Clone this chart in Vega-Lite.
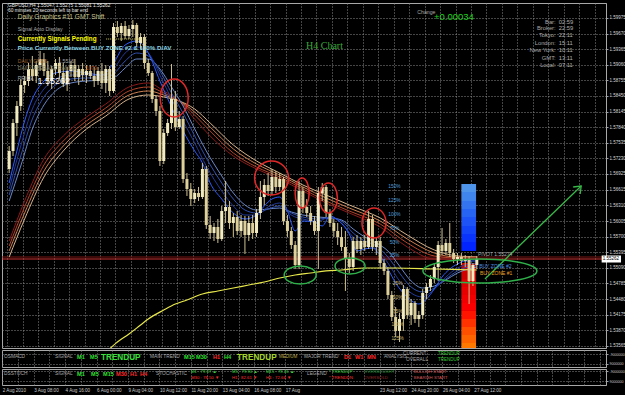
{
"$schema":"https://vega.github.io/schema/vega-lite/v6.json",
"background":"#000000",
"padding":{"left":1,"top":2,"right":0,"bottom":0},
"spacing":2,
"bounds":"flush",
"config":{"font":"Liberation Sans","view":{"stroke":"#a8a8a8","strokeWidth":1,"fill":"#000000"},"axis":{"labelFont":"Liberation Sans"}},
"datasets":{
"candles":[
{"b":0,"o":1.57023,"h":1.57472,"l":1.56944,"c":1.57375},{"b":1,"o":1.57375,"h":1.58000,"l":1.57277,"c":1.57922},{"b":2,"o":1.57922,"h":1.58352,"l":1.57668,"c":1.58254},{"b":3,"o":1.58254,"h":1.58782,"l":1.58157,"c":1.58665},{"b":4,"o":1.58665,"h":1.58841,"l":1.58508,"c":1.58743},{"b":5,"o":1.58743,"h":1.59095,"l":1.58645,"c":1.58978},{"b":6,"o":1.58978,"h":1.59232,"l":1.58743,"c":1.58841},{"b":7,"o":1.58841,"h":1.59134,"l":1.58704,"c":1.59056},{"b":8,"o":1.59056,"h":1.59330,"l":1.58939,"c":1.59173},{"b":9,"o":1.59173,"h":1.59290,"l":1.58841,"c":1.58939},
{"b":10,"o":1.58939,"h":1.59134,"l":1.58645,"c":1.58743},{"b":11,"o":1.58743,"h":1.59036,"l":1.58587,"c":1.58978},{"b":12,"o":1.58978,"h":1.59173,"l":1.58860,"c":1.59095},{"b":13,"o":1.59095,"h":1.59212,"l":1.58782,"c":1.58899},{"b":14,"o":1.58899,"h":1.59095,"l":1.58626,"c":1.58704},{"b":15,"o":1.58704,"h":1.59017,"l":1.58548,"c":1.58939},{"b":16,"o":1.58939,"h":1.59134,"l":1.58821,"c":1.59056},{"b":17,"o":1.59056,"h":1.59173,"l":1.58743,"c":1.58821},{"b":18,"o":1.58821,"h":1.59056,"l":1.58665,"c":1.58978},{"b":19,"o":1.58978,"h":1.59095,"l":1.58743,"c":1.58860},
{"b":20,"o":1.58860,"h":1.59056,"l":1.58704,"c":1.58939},{"b":21,"o":1.58939,"h":1.59056,"l":1.58782,"c":1.58841},{"b":22,"o":1.58841,"h":1.59017,"l":1.58626,"c":1.58743},{"b":23,"o":1.58743,"h":1.59017,"l":1.58665,"c":1.58939},{"b":24,"o":1.58939,"h":1.59095,"l":1.58587,"c":1.58704},{"b":25,"o":1.58704,"h":1.59056,"l":1.58508,"c":1.58978},{"b":26,"o":1.58978,"h":1.59036,"l":1.58450,"c":1.58548},{"b":27,"o":1.58548,"h":1.59877,"l":1.58508,"c":1.59799},{"b":28,"o":1.59799,"h":1.59916,"l":1.59603,"c":1.59681},{"b":29,"o":1.59681,"h":1.59877,"l":1.59525,"c":1.59818},
{"b":30,"o":1.59818,"h":1.59916,"l":1.59564,"c":1.59623},{"b":31,"o":1.59623,"h":1.59838,"l":1.59564,"c":1.59760},{"b":32,"o":1.59760,"h":1.59936,"l":1.59603,"c":1.59838},{"b":33,"o":1.59838,"h":1.59877,"l":1.59408,"c":1.59486},{"b":34,"o":1.59486,"h":1.59681,"l":1.59369,"c":1.59603},{"b":35,"o":1.59603,"h":1.59662,"l":1.58978,"c":1.59095},{"b":36,"o":1.59095,"h":1.59173,"l":1.58841,"c":1.58899},{"b":37,"o":1.58899,"h":1.58939,"l":1.58313,"c":1.58391},{"b":38,"o":1.58391,"h":1.58450,"l":1.58059,"c":1.58157},{"b":39,"o":1.58157,"h":1.58254,"l":1.57081,"c":1.57179},
{"b":40,"o":1.57179,"h":1.57805,"l":1.57120,"c":1.57726},{"b":41,"o":1.57726,"h":1.58000,"l":1.57668,"c":1.57922},{"b":42,"o":1.57922,"h":1.59075,"l":1.57805,"c":1.58391},{"b":43,"o":1.58391,"h":1.58548,"l":1.57766,"c":1.57844},{"b":44,"o":1.57844,"h":1.58157,"l":1.57805,"c":1.58000},{"b":45,"o":1.58000,"h":1.58059,"l":1.56749,"c":1.56827},{"b":46,"o":1.56827,"h":1.56944,"l":1.56495,"c":1.56632},{"b":47,"o":1.56632,"h":1.56749,"l":1.56299,"c":1.56436},{"b":48,"o":1.56436,"h":1.56632,"l":1.56358,"c":1.56553},{"b":49,"o":1.56553,"h":1.56671,"l":1.56397,"c":1.56475},
{"b":50,"o":1.56475,"h":1.57140,"l":1.56436,"c":1.57023},{"b":51,"o":1.57023,"h":1.57081,"l":1.55850,"c":1.55928},{"b":52,"o":1.55928,"h":1.56104,"l":1.55654,"c":1.55771},{"b":53,"o":1.55771,"h":1.55967,"l":1.55615,"c":1.55889},{"b":54,"o":1.55889,"h":1.56045,"l":1.55576,"c":1.55654},{"b":55,"o":1.55654,"h":1.56299,"l":1.55615,"c":1.56202},{"b":56,"o":1.56202,"h":1.56788,"l":1.55967,"c":1.56280},{"b":57,"o":1.56280,"h":1.56397,"l":1.55850,"c":1.55967},{"b":58,"o":1.55967,"h":1.56162,"l":1.55693,"c":1.56084},{"b":59,"o":1.56084,"h":1.56202,"l":1.55732,"c":1.55811},
{"b":60,"o":1.55811,"h":1.56123,"l":1.55693,"c":1.56006},{"b":61,"o":1.56006,"h":1.56104,"l":1.55361,"c":1.55732},{"b":62,"o":1.55732,"h":1.56104,"l":1.55615,"c":1.55967},{"b":63,"o":1.55967,"h":1.56123,"l":1.55654,"c":1.55771},{"b":64,"o":1.55771,"h":1.56241,"l":1.55693,"c":1.56162},{"b":65,"o":1.56162,"h":1.56788,"l":1.56045,"c":1.56475},{"b":66,"o":1.56475,"h":1.56827,"l":1.56319,"c":1.56710},{"b":67,"o":1.56710,"h":1.56944,"l":1.56495,"c":1.56593},{"b":68,"o":1.56593,"h":1.57023,"l":1.56514,"c":1.56866},{"b":69,"o":1.56866,"h":1.56984,"l":1.56553,"c":1.56671},
{"b":70,"o":1.56671,"h":1.56944,"l":1.56593,"c":1.56827},{"b":71,"o":1.56827,"h":1.56866,"l":1.55928,"c":1.56006},{"b":72,"o":1.56006,"h":1.56123,"l":1.55693,"c":1.55811},{"b":73,"o":1.55811,"h":1.55889,"l":1.55459,"c":1.55537},{"b":74,"o":1.55537,"h":1.55615,"l":1.55068,"c":1.55146},{"b":75,"o":1.55146,"h":1.56788,"l":1.55068,"c":1.56593},{"b":76,"o":1.56593,"h":1.56671,"l":1.56162,"c":1.56280},{"b":77,"o":1.56280,"h":1.56436,"l":1.56084,"c":1.56162},{"b":78,"o":1.56162,"h":1.56299,"l":1.55928,"c":1.56006},{"b":79,"o":1.56006,"h":1.56104,"l":1.55732,"c":1.55811},
{"b":80,"o":1.55811,"h":1.56671,"l":1.55068,"c":1.56553},{"b":81,"o":1.56553,"h":1.56749,"l":1.56397,"c":1.56671},{"b":82,"o":1.56671,"h":1.56710,"l":1.56084,"c":1.56162},{"b":83,"o":1.56162,"h":1.56241,"l":1.55889,"c":1.55967},{"b":84,"o":1.55967,"h":1.56045,"l":1.55693,"c":1.55811},{"b":85,"o":1.55811,"h":1.55967,"l":1.55537,"c":1.55693},{"b":86,"o":1.55693,"h":1.55889,"l":1.55420,"c":1.55498},{"b":87,"o":1.55498,"h":1.55811,"l":1.54638,"c":1.55263},{"b":88,"o":1.55263,"h":1.55380,"l":1.54989,"c":1.55107},{"b":89,"o":1.55107,"h":1.55693,"l":1.55029,"c":1.55615},
{"b":90,"o":1.55615,"h":1.55732,"l":1.55380,"c":1.55459},{"b":91,"o":1.55459,"h":1.55693,"l":1.55341,"c":1.55615},{"b":92,"o":1.55615,"h":1.55732,"l":1.55420,"c":1.55498},{"b":93,"o":1.55498,"h":1.56202,"l":1.55459,"c":1.56045},{"b":94,"o":1.56045,"h":1.56123,"l":1.55420,"c":1.55498},{"b":95,"o":1.55498,"h":1.55693,"l":1.55341,"c":1.55615},{"b":96,"o":1.55615,"h":1.55693,"l":1.55068,"c":1.55185},{"b":97,"o":1.55185,"h":1.55263,"l":1.54950,"c":1.55029},{"b":98,"o":1.55029,"h":1.55107,"l":1.54481,"c":1.54559},{"b":99,"o":1.54559,"h":1.54638,"l":1.54051,"c":1.54129},
{"b":100,"o":1.54129,"h":1.54325,"l":1.53738,"c":1.53856},{"b":101,"o":1.53856,"h":1.54207,"l":1.53640,"c":1.54090},{"b":102,"o":1.54090,"h":1.54755,"l":1.53856,"c":1.54677},{"b":103,"o":1.54677,"h":1.54716,"l":1.54090,"c":1.54168},{"b":104,"o":1.54168,"h":1.54481,"l":1.53973,"c":1.54403},{"b":105,"o":1.54403,"h":1.54442,"l":1.54012,"c":1.54090},{"b":106,"o":1.54090,"h":1.54247,"l":1.53934,"c":1.54168},{"b":107,"o":1.54168,"h":1.54677,"l":1.54090,"c":1.54598},{"b":108,"o":1.54598,"h":1.54794,"l":1.54481,"c":1.54716},{"b":109,"o":1.54716,"h":1.54950,"l":1.54638,"c":1.54872},
{"b":110,"o":1.54872,"h":1.55185,"l":1.54794,"c":1.55107},{"b":111,"o":1.55107,"h":1.55615,"l":1.54833,"c":1.55537},{"b":112,"o":1.55537,"h":1.55869,"l":1.55341,"c":1.55420},{"b":113,"o":1.55420,"h":1.55654,"l":1.55341,"c":1.55576},{"b":114,"o":1.55576,"h":1.55967,"l":1.55302,"c":1.55380},{"b":115,"o":1.55380,"h":1.55459,"l":1.55185,"c":1.55263},{"b":116,"o":1.55263,"h":1.55380,"l":1.55146,"c":1.55302},{"b":117,"o":1.55302,"h":1.55380,"l":1.55146,"c":1.55224},{"b":118,"o":1.55224,"h":1.55341,"l":1.55107,"c":1.55263},{"b":119,"o":1.55263,"h":1.55322,"l":1.54383,"c":1.54833},
{"b":120,"o":1.54833,"h":1.55185,"l":1.54735,"c":1.55146},{"b":121,"o":1.55146,"h":1.55322,"l":1.55068,"c":1.55263}
],
"ma":[
{"s":"L4","b":0,"p":1.55302},{"s":"L4","b":4,"p":1.56045},{"s":"L4","b":9,"p":1.56866},{"s":"L4","b":14,"p":1.57375},{"s":"L4","b":20,"p":1.57805},{"s":"L4","b":25,"p":1.58059},{"s":"L4","b":31,"p":1.58391},{"s":"L4","b":36,"p":1.58469},{"s":"L4","b":40,"p":1.58430},{"s":"L4","b":44,"p":1.58352},{"s":"L4","b":48,"p":1.58196},{"s":"L4","b":52,"p":1.57922},{"s":"L4","b":58,"p":1.57492},{"s":"L4","b":64,"p":1.57179},{"s":"L4","b":70,"p":1.56944},{"s":"L4","b":76,"p":1.56710},{"s":"L4","b":82,"p":1.56514},{"s":"L4","b":88,"p":1.56319},{"s":"L4","b":96,"p":1.56065},{"s":"L4","b":103,"p":1.55732},{"s":"L4","b":110,"p":1.55439},{"s":"L4","b":116,"p":1.55322},{"s":"L4","b":121,"p":1.55302},
{"s":"L3","b":0,"p":1.55420},{"s":"L3","b":4,"p":1.56162},{"s":"L3","b":9,"p":1.56984},{"s":"L3","b":14,"p":1.57472},{"s":"L3","b":20,"p":1.57883},{"s":"L3","b":25,"p":1.58137},{"s":"L3","b":31,"p":1.58469},{"s":"L3","b":36,"p":1.58548},{"s":"L3","b":40,"p":1.58469},{"s":"L3","b":44,"p":1.58352},{"s":"L3","b":48,"p":1.58137},{"s":"L3","b":52,"p":1.57844},{"s":"L3","b":58,"p":1.57414},{"s":"L3","b":64,"p":1.57120},{"s":"L3","b":70,"p":1.56905},{"s":"L3","b":76,"p":1.56671},{"s":"L3","b":82,"p":1.56456},{"s":"L3","b":88,"p":1.56260},{"s":"L3","b":96,"p":1.56006},{"s":"L3","b":103,"p":1.55654},{"s":"L3","b":110,"p":1.55380},{"s":"L3","b":116,"p":1.55302},{"s":"L3","b":121,"p":1.55302},
{"s":"L2","b":0,"p":1.55517},{"s":"L2","b":4,"p":1.56280},{"s":"L2","b":9,"p":1.57101},{"s":"L2","b":14,"p":1.57570},{"s":"L2","b":20,"p":1.57961},{"s":"L2","b":25,"p":1.58215},{"s":"L2","b":31,"p":1.58548},{"s":"L2","b":36,"p":1.58626},{"s":"L2","b":40,"p":1.58508},{"s":"L2","b":44,"p":1.58352},{"s":"L2","b":48,"p":1.58078},{"s":"L2","b":52,"p":1.57766},{"s":"L2","b":58,"p":1.57335},{"s":"L2","b":64,"p":1.57062},{"s":"L2","b":70,"p":1.56866},{"s":"L2","b":76,"p":1.56632},{"s":"L2","b":82,"p":1.56397},{"s":"L2","b":88,"p":1.56202},{"s":"L2","b":96,"p":1.55947},{"s":"L2","b":103,"p":1.55576},{"s":"L2","b":110,"p":1.55322},{"s":"L2","b":116,"p":1.55283},{"s":"L2","b":121,"p":1.55283},
{"s":"L1","b":0,"p":1.55615},{"s":"L1","b":4,"p":1.56397},{"s":"L1","b":9,"p":1.57218},{"s":"L1","b":14,"p":1.57668},{"s":"L1","b":20,"p":1.58039},{"s":"L1","b":25,"p":1.58293},{"s":"L1","b":31,"p":1.58626},{"s":"L1","b":36,"p":1.58704},{"s":"L1","b":40,"p":1.58548},{"s":"L1","b":44,"p":1.58352},{"s":"L1","b":48,"p":1.58000},{"s":"L1","b":52,"p":1.57668},{"s":"L1","b":58,"p":1.57277},{"s":"L1","b":64,"p":1.57023},{"s":"L1","b":70,"p":1.56827},{"s":"L1","b":76,"p":1.56593},{"s":"L1","b":82,"p":1.56358},{"s":"L1","b":88,"p":1.56162},{"s":"L1","b":96,"p":1.55889},{"s":"L1","b":103,"p":1.55498},{"s":"L1","b":110,"p":1.55263},{"s":"L1","b":116,"p":1.55263},{"s":"L1","b":121,"p":1.55283},
{"s":"B4","b":0,"p":1.56397},{"s":"B4","b":3,"p":1.57081},{"s":"B4","b":6,"p":1.57805},{"s":"B4","b":9,"p":1.58274},{"s":"B4","b":12,"p":1.58548},{"s":"B4","b":16,"p":1.58704},{"s":"B4","b":20,"p":1.58743},{"s":"B4","b":24,"p":1.58763},{"s":"B4","b":27,"p":1.58802},{"s":"B4","b":30,"p":1.58997},{"s":"B4","b":33,"p":1.59173},{"s":"B4","b":36,"p":1.59173},{"s":"B4","b":39,"p":1.58978},{"s":"B4","b":42,"p":1.58626},{"s":"B4","b":45,"p":1.58254},{"s":"B4","b":48,"p":1.57805},{"s":"B4","b":51,"p":1.57375},{"s":"B4","b":55,"p":1.56886},{"s":"B4","b":58,"p":1.56553},{"s":"B4","b":61,"p":1.56319},{"s":"B4","b":64,"p":1.56221},{"s":"B4","b":67,"p":1.56241},{"s":"B4","b":70,"p":1.56260},{"s":"B4","b":73,"p":1.56182},{"s":"B4","b":76,"p":1.56123},{"s":"B4","b":80,"p":1.56084},{"s":"B4","b":83,"p":1.56065},{"s":"B4","b":86,"p":1.56026},{"s":"B4","b":89,"p":1.55850},{"s":"B4","b":92,"p":1.55693},{"s":"B4","b":95,"p":1.55576},{"s":"B4","b":98,"p":1.55420},{"s":"B4","b":101,"p":1.55126},{"s":"B4","b":104,"p":1.54833},{"s":"B4","b":107,"p":1.54696},{"s":"B4","b":110,"p":1.54735},{"s":"B4","b":113,"p":1.54853},{"s":"B4","b":116,"p":1.54989},{"s":"B4","b":121,"p":1.55107},
{"s":"B3","b":0,"p":1.56514},{"s":"B3","b":3,"p":1.57277},{"s":"B3","b":6,"p":1.58000},{"s":"B3","b":9,"p":1.58430},{"s":"B3","b":12,"p":1.58665},{"s":"B3","b":16,"p":1.58782},{"s":"B3","b":20,"p":1.58802},{"s":"B3","b":24,"p":1.58802},{"s":"B3","b":27,"p":1.58880},{"s":"B3","b":30,"p":1.59134},{"s":"B3","b":33,"p":1.59290},{"s":"B3","b":36,"p":1.59232},{"s":"B3","b":39,"p":1.58939},{"s":"B3","b":42,"p":1.58508},{"s":"B3","b":45,"p":1.58117},{"s":"B3","b":48,"p":1.57668},{"s":"B3","b":51,"p":1.57238},{"s":"B3","b":55,"p":1.56749},{"s":"B3","b":58,"p":1.56436},{"s":"B3","b":61,"p":1.56221},{"s":"B3","b":64,"p":1.56162},{"s":"B3","b":67,"p":1.56241},{"s":"B3","b":70,"p":1.56299},{"s":"B3","b":73,"p":1.56162},{"s":"B3","b":76,"p":1.56084},{"s":"B3","b":80,"p":1.56045},{"s":"B3","b":83,"p":1.56065},{"s":"B3","b":86,"p":1.56006},{"s":"B3","b":89,"p":1.55771},{"s":"B3","b":92,"p":1.55615},{"s":"B3","b":95,"p":1.55517},{"s":"B3","b":98,"p":1.55302},{"s":"B3","b":101,"p":1.54989},{"s":"B3","b":104,"p":1.54716},{"s":"B3","b":107,"p":1.54618},{"s":"B3","b":110,"p":1.54696},{"s":"B3","b":113,"p":1.54872},{"s":"B3","b":116,"p":1.55029},{"s":"B3","b":121,"p":1.55146},
{"s":"B2","b":0,"p":1.56632},{"s":"B2","b":3,"p":1.57472},{"s":"B2","b":6,"p":1.58196},{"s":"B2","b":9,"p":1.58587},{"s":"B2","b":12,"p":1.58782},{"s":"B2","b":16,"p":1.58860},{"s":"B2","b":20,"p":1.58860},{"s":"B2","b":24,"p":1.58841},{"s":"B2","b":27,"p":1.58978},{"s":"B2","b":30,"p":1.59290},{"s":"B2","b":33,"p":1.59408},{"s":"B2","b":36,"p":1.59290},{"s":"B2","b":39,"p":1.58860},{"s":"B2","b":42,"p":1.58391},{"s":"B2","b":45,"p":1.57961},{"s":"B2","b":48,"p":1.57531},{"s":"B2","b":51,"p":1.57081},{"s":"B2","b":55,"p":1.56593},{"s":"B2","b":58,"p":1.56299},{"s":"B2","b":61,"p":1.56123},{"s":"B2","b":64,"p":1.56123},{"s":"B2","b":67,"p":1.56280},{"s":"B2","b":70,"p":1.56358},{"s":"B2","b":73,"p":1.56123},{"s":"B2","b":76,"p":1.56045},{"s":"B2","b":80,"p":1.56006},{"s":"B2","b":83,"p":1.56084},{"s":"B2","b":86,"p":1.55967},{"s":"B2","b":89,"p":1.55693},{"s":"B2","b":92,"p":1.55537},{"s":"B2","b":95,"p":1.55459},{"s":"B2","b":98,"p":1.55185},{"s":"B2","b":101,"p":1.54833},{"s":"B2","b":104,"p":1.54598},{"s":"B2","b":107,"p":1.54520},{"s":"B2","b":110,"p":1.54677},{"s":"B2","b":113,"p":1.54911},{"s":"B2","b":116,"p":1.55087},{"s":"B2","b":121,"p":1.55185},
{"s":"B1","b":0,"p":1.56749},{"s":"B1","b":2,"p":1.57375},{"s":"B1","b":4,"p":1.57961},{"s":"B1","b":6,"p":1.58391},{"s":"B1","b":9,"p":1.58743},{"s":"B1","b":12,"p":1.58899},{"s":"B1","b":16,"p":1.58939},{"s":"B1","b":20,"p":1.58899},{"s":"B1","b":24,"p":1.58860},{"s":"B1","b":27,"p":1.59095},{"s":"B1","b":30,"p":1.59447},{"s":"B1","b":33,"p":1.59525},{"s":"B1","b":36,"p":1.59290},{"s":"B1","b":39,"p":1.58743},{"s":"B1","b":42,"p":1.58235},{"s":"B1","b":45,"p":1.57766},{"s":"B1","b":48,"p":1.57375},{"s":"B1","b":50,"p":1.57140},{"s":"B1","b":52,"p":1.56749},{"s":"B1","b":55,"p":1.56436},{"s":"B1","b":58,"p":1.56162},{"s":"B1","b":61,"p":1.56045},{"s":"B1","b":64,"p":1.56123},{"s":"B1","b":66,"p":1.56299},{"s":"B1","b":68,"p":1.56436},{"s":"B1","b":70,"p":1.56475},{"s":"B1","b":72,"p":1.56202},{"s":"B1","b":74,"p":1.55811},{"s":"B1","b":76,"p":1.56006},{"s":"B1","b":79,"p":1.55986},{"s":"B1","b":81,"p":1.55908},{"s":"B1","b":83,"p":1.56104},{"s":"B1","b":85,"p":1.56026},{"s":"B1","b":88,"p":1.55752},{"s":"B1","b":90,"p":1.55420},{"s":"B1","b":92,"p":1.55459},{"s":"B1","b":94,"p":1.55478},{"s":"B1","b":96,"p":1.55322},{"s":"B1","b":98,"p":1.55068},{"s":"B1","b":100,"p":1.54794},{"s":"B1","b":103,"p":1.54520},{"s":"B1","b":106,"p":1.54383},{"s":"B1","b":108,"p":1.54481},{"s":"B1","b":110,"p":1.54677},{"s":"B1","b":112,"p":1.54911},{"s":"B1","b":114,"p":1.55068},{"s":"B1","b":116,"p":1.55165},{"s":"B1","b":118,"p":1.55224},{"s":"B1","b":121,"p":1.55224}
],
"yellow":[
{"b":24,"p":1.53308},{"b":26,"p":1.53504},{"b":28,"p":1.5364},{"b":31,"p":1.53797},{"b":34,"p":1.53973},{"b":36,"p":1.5409},{"b":40,"p":1.54266},{"b":43,"p":1.54383},{"b":46,"p":1.54462},{"b":50,"p":1.54579},{"b":54,"p":1.54638},{"b":58,"p":1.54696},{"b":62,"p":1.54755},{"b":66,"p":1.54813},{"b":70,"p":1.54892},{"b":74,"p":1.5495},{"b":78,"p":1.54989},{"b":82,"p":1.55029},{"b":86,"p":1.55048},{"b":92,"p":1.55087},{"b":100,"p":1.55087},{"b":110,"p":1.55068},{"b":121,"p":1.55048}
],
"cells":[
{"cell":"c01","b":117,"b2":120.8,"p":1.56729,"p2":1.56573},{"cell":"c02","b":117,"b2":120.8,"p":1.56573,"p2":1.56397},{"cell":"c03","b":117,"b2":120.8,"p":1.56397,"p2":1.56241},{"cell":"c04","b":117,"b2":120.8,"p":1.56241,"p2":1.56084},{"cell":"c05","b":117,"b2":120.8,"p":1.56084,"p2":1.55908},{"cell":"c06","b":117,"b2":120.8,"p":1.55908,"p2":1.55752},{"cell":"c07","b":117,"b2":120.8,"p":1.55752,"p2":1.55595},{"cell":"c08","b":117,"b2":120.8,"p":1.55595,"p2":1.5542},
{"cell":"c09","b":117,"b2":120.8,"p":1.55185,"p2":1.55029},{"cell":"c10","b":117,"b2":120.8,"p":1.55029,"p2":1.54872},{"cell":"c11","b":117,"b2":120.8,"p":1.54872,"p2":1.54716},{"cell":"c12","b":117,"b2":120.8,"p":1.54716,"p2":1.54559},{"cell":"c13","b":117,"b2":120.8,"p":1.54559,"p2":1.54403},{"cell":"c14","b":117,"b2":120.8,"p":1.54403,"p2":1.54247},{"cell":"c15","b":117,"b2":120.8,"p":1.54247,"p2":1.5409},{"cell":"c16","b":117,"b2":120.8,"p":1.5409,"p2":1.53934},{"cell":"c17","b":117,"b2":120.8,"p":1.53934,"p2":1.53777},{"cell":"c18","b":117,"b2":120.8,"p":1.53777,"p2":1.53621},{"cell":"c19","b":117,"b2":120.8,"p":1.53621,"p2":1.53523}
]
},
"vconcat":[
{
"width":604,"height":345,
"resolve":{"scale":{"color":"independent","shape":"independent"}},
"layer":[
{"data":{"name":"cells"},"mark":{"type":"rect","clip":true},
 "encoding":{
  "x":{"field":"b","type":"quantitative","title":null,"scale":{"domain":[-0.56,153.13],"nice":false,"zero":false},
   "axis":{"orient":"bottom","labels":false,"ticks":false,"domain":false,"grid":true,"gridColor":"#8a8a8a","gridDash":[1,2],"minExtent":0,"maxExtent":0,"tickCount":200,
   "values":[-0.5,3.5,7.5,11.5,15.5,19.5,23.5,27.5,31.5,35.5,39.5,43.5,47.5,51.5,55.5,59.5,63.5,67.5,71.5,75.5,79.5,83.5,87.5,91.5,95.5,99.5,103.5,107.5,111.5,115.5,119.5,123.5,127.5,131.5,135.5,139.5,143.5,147.5,151.5]}},
  "x2":{"field":"b2"},
  "y":{"field":"p","type":"quantitative","title":null,"scale":{"domain":[1.53523,1.60268],"nice":false,"zero":false},
   "axis":{"orient":"right","format":".5f","labelFontSize":4.5,"labelColor":"#d8d8d8","labelOverlap":false,"labelBound":false,"tickCount":200,"tickSize":2,"tickColor":"#a0a0a0","domainColor":"#a8a8a8","labelPadding":1,"grid":true,"gridColor":"#8a8a8a","gridDash":[1,2],"minExtent":20,"maxExtent":20,
   "values":[1.59975,1.5967,1.59365,1.5906,1.58755,1.5845,1.58145,1.5784,1.57535,1.5723,1.56925,1.56615,1.5631,1.56005,1.557,1.55395,1.5509,1.54785,1.5448,1.54175,1.5387,1.53565]}},
  "y2":{"field":"p2"},
  "color":{"field":"cell","type":"nominal","legend":null,"scale":{"domain":["c01","c02","c03","c04","c05","c06","c07","c08","c09","c10","c11","c12","c13","c14","c15","c16","c17","c18","c19"],"range":["#4d94ea","#4084ee","#3474f1","#2864f4","#1e54f7","#1444f9","#0a34fc","#0224ff","#c80000","#d20000","#dc0000","#e60000","#f00000","#fa0000","#ff1400","#ff3200","#ff5000","#ff6400","#ff7800"]}}
 }},
{"data":{"values":[{"p":1.55302,"k":"a"},{"p":1.55263,"k":"b"}]},"mark":{"type":"rule","strokeWidth":1},
 "encoding":{"y":{"field":"p","type":"quantitative","title":null},"color":{"field":"k","type":"nominal","legend":null,"scale":{"domain":["a","b"],"range":["#7a1414","#c83030"]}}}},
{"data":{"name":"ma"},"mark":{"type":"line","strokeWidth":1,"clip":true,"interpolate":"monotone"},
 "encoding":{"x":{"field":"b","type":"quantitative","title":null},"y":{"field":"p","type":"quantitative","title":null},
  "color":{"field":"s","type":"nominal","legend":null,"scale":{"domain":["L4","L3","L2","L1","B4","B3","B2","B1"],"range":["#d8b48c","#cd7f50","#b5452a","#8b1a1a","#6a88c8","#3050b0","#233a9a","#2a5cff"]}}}},
{"data":{"name":"yellow"},"mark":{"type":"line","strokeWidth":1.2,"clip":true,"interpolate":"monotone","color":"#e8e84c"},
 "encoding":{"x":{"field":"b","type":"quantitative","title":null},"y":{"field":"p","type":"quantitative","title":null}}},
{"data":{"name":"candles"},"mark":{"type":"rule","strokeWidth":1,"clip":true,"color":"#cfc290"},
 "encoding":{"x":{"field":"b","type":"quantitative","title":null},"y":{"field":"l","type":"quantitative","title":null},"y2":{"field":"h"}}},
{"data":{"name":"candles"},"mark":{"type":"bar","size":3,"clip":true},
 "encoding":{"x":{"field":"b","type":"quantitative","title":null},"y":{"field":"o","type":"quantitative","title":null},"y2":{"field":"c"},
  "color":{"condition":{"test":"datum.c > datum.o","value":"#f2ebc0"},"value":"#ddd09a"}}},
{"data":{"values":[{"b":42.7,"p":1.58411,"ring":"r1","kind":"res"},{"b":67.9,"p":1.56847,"ring":"r2","kind":"res"},{"b":75.8,"p":1.56553,"ring":"r3","kind":"res"},{"b":82.6,"p":1.56456,"ring":"r4","kind":"res"},{"b":94.4,"p":1.55967,"ring":"r5","kind":"res"},{"b":75.3,"p":1.5495,"ring":"g1","kind":"sup"},{"b":88.2,"p":1.55126,"ring":"g2","kind":"sup"},{"b":121.8,"p":1.55029,"ring":"g3","kind":"sup"}]},
 "mark":{"type":"point","filled":false,"size":4,"strokeWidth":1.5,"opacity":1},
 "encoding":{"x":{"field":"b","type":"quantitative","title":null},"y":{"field":"p","type":"quantitative","title":null},
  "color":{"field":"kind","type":"nominal","legend":null,"scale":{"domain":["res","sup"],"range":["#e02828","#2fb04a"]}},
  "shape":{"field":"ring","type":"nominal","legend":null,"scale":{"domain":["r1","r2","r3","r4","r5","g1","g2","g3"],"range":[
   "M14,0C14,10.5 7.7,19 0,19C-7.7,19 -14,10.5 -14,0C-14,-10.5 -7.7,-19 0,-19C7.7,-19 14,-10.5 14,0Z",
   "M17,0C17,9.4 9.4,17 0,17C-9.4,17 -17,9.4 -17,0C-17,-9.4 -9.4,-17 0,-17C9.4,-17 17,-9.4 17,0Z",
   "M7,0C7,8.3 3.9,15 0,15C-3.9,15 -7,8.3 -7,0C-7,-8.3 -3.9,-15 0,-15C3.9,-15 7,-8.3 7,0Z",
   "M9,0C9,8.3 5,15 0,15C-5,15 -9,8.3 -9,0C-9,-8.3 -5,-15 0,-15C5,-15 9,-8.3 9,0Z",
   "M12,0C12,8.3 6.6,15 0,15C-6.6,15 -12,8.3 -12,0C-12,-8.3 -6.6,-15 0,-15C6.6,-15 12,-8.3 12,0Z",
   "M16,0C16,5 8.8,9 0,9C-8.8,9 -16,5 -16,0C-16,-5 -8.8,-9 0,-9C8.8,-9 16,-5 16,0Z",
   "M15,0C15,4.4 8.3,8 0,8C-8.3,8 -15,4.4 -15,0C-15,-4.4 -8.3,-8 0,-8C8.3,-8 15,-4.4 15,0Z",
   "M57,0C57,6.6 31.5,12 0,12C-31.5,12 -57,6.6 -57,0C-57,-6.6 -31.5,-12 0,-12C31.5,-12 57,-6.6 57,0Z"]}}}},
{"data":{"values":[{"b":123.1,"p":1.54872},{"b":148.0,"p":1.5669}]},"mark":{"type":"line","strokeWidth":1.3,"color":"#38b848"},
 "encoding":{"x":{"field":"b","type":"quantitative","title":null},"y":{"field":"p","type":"quantitative","title":null}}},
{"data":{"values":[{"b":148.0,"p":1.5669}]},"mark":{"type":"point","filled":false,"size":4,"strokeWidth":1.3,"color":"#38b848","opacity":1,"shape":"M-8,1L0,0L-1,8"},
 "encoding":{"x":{"field":"b","type":"quantitative","title":null},"y":{"field":"p","type":"quantitative","title":null}}},
{"data":{"values":[{"b":25.1,"b2":34.0,"p":1.59564}]},"mark":{"type":"rule","strokeWidth":1,"strokeDash":[1,1],"color":"#d8d060"},
 "encoding":{"x":{"field":"b","type":"quantitative","title":null},"x2":{"field":"b2"},"y":{"field":"p","type":"quantitative","title":null}}},
{"data":{"values":[{"b":-0.3,"p":1.60209,"t":"GBPUSD,H4  1.55047  1.55275  1.55081  1.55262"},{"b":-0.3,"p":1.60112,"t":"60 minutes 20 seconds left to bar end"}]},
 "mark":{"type":"text","align":"left","baseline":"middle","fontSize":4.8,"color":"#e8e8e8"},
 "encoding":{"x":{"field":"b","type":"quantitative","title":null},"y":{"field":"p","type":"quantitative","title":null},"text":{"field":"t"}}},
{"data":{"values":[{"b":2.24,"p":1.59994,"t":"Daily Graphics #11 GMT Shift"}]},
 "mark":{"type":"text","align":"left","baseline":"middle","fontSize":6.6,"color":"#c9c58f"},
 "encoding":{"x":{"field":"b","type":"quantitative","title":null},"y":{"field":"p","type":"quantitative","title":null},"text":{"field":"t"}}},
{"data":{"values":[{"b":2.24,"p":1.5976,"t":"Signal Auto Display"},{"b":2.24,"p":1.58802,"t":"PRICE"},{"b":105.6,"p":1.60092,"t":"Change"},{"b":12.7,"p":1.59134,"t":"1.5516"}]},
 "mark":{"type":"text","align":"left","baseline":"middle","fontSize":5.2,"color":"#a8a8a8"},
 "encoding":{"x":{"field":"b","type":"quantitative","title":null},"y":{"field":"p","type":"quantitative","title":null},"text":{"field":"t"}}},
{"data":{"values":[{"b":2.24,"p":1.59564,"t":"Currently Signals Pending"}]},
 "mark":{"type":"text","align":"left","baseline":"middle","fontSize":6.3,"fontWeight":"bold","color":"#ffff00"},
 "encoding":{"x":{"field":"b","type":"quantitative","title":null},"y":{"field":"p","type":"quantitative","title":null},"text":{"field":"t"}}},
{"data":{"values":[{"b":2.24,"p":1.59388,"t":"Price Currently Between BUY ZONE #2 & 100% D/AV"}]},
 "mark":{"type":"text","align":"left","baseline":"middle","fontSize":6.2,"fontWeight":"bold","color":"#8ad6e6"},
 "encoding":{"x":{"field":"b","type":"quantitative","title":null},"y":{"field":"p","type":"quantitative","title":null},"text":{"field":"t"}}},
{"data":{"values":[{"b":2.24,"p":1.59134,"t":"DAILY OPEN"}]},
 "mark":{"type":"text","align":"left","baseline":"middle","fontSize":5,"color":"#9a6030"},
 "encoding":{"x":{"field":"b","type":"quantitative","title":null},"y":{"field":"p","type":"quantitative","title":null},"text":{"field":"t"}}},
{"data":{"values":[{"b":2.24,"p":1.58997,"t":"DAILY AVERAGE RANGE"}]},
 "mark":{"type":"text","align":"left","baseline":"middle","fontSize":5,"color":"#8e8e72"},
 "encoding":{"x":{"field":"b","type":"quantitative","title":null},"y":{"field":"p","type":"quantitative","title":null},"text":{"field":"t"}}},
{"data":{"values":[{"b":19.8,"p":1.58997,"t":"1079"}]},
 "mark":{"type":"text","align":"left","baseline":"middle","fontSize":5,"color":"#b0502a"},
 "encoding":{"x":{"field":"b","type":"quantitative","title":null},"y":{"field":"p","type":"quantitative","title":null},"text":{"field":"t"}}},
{"data":{"values":[{"b":7.3,"p":1.58743,"t":"1.55262"}]},
 "mark":{"type":"text","align":"left","baseline":"middle","fontSize":9,"color":"#ffffff"},
 "encoding":{"x":{"field":"b","type":"quantitative","title":null},"y":{"field":"p","type":"quantitative","title":null},"text":{"field":"t"}}},
{"data":{"values":[{"b":109.9,"p":1.59994,"t":"+0.00034"}]},
 "mark":{"type":"text","align":"left","baseline":"middle","fontSize":9.5,"color":"#1fd21f"},
 "encoding":{"x":{"field":"b","type":"quantitative","title":null},"y":{"field":"p","type":"quantitative","title":null},"text":{"field":"t"}}},
{"data":{"values":[{"b":141.4,"p":1.59896,"t":"Bar:"},{"b":141.4,"p":1.59779,"t":"Broker:"},{"b":141.4,"p":1.59642,"t":"Tokyo:"},{"b":141.4,"p":1.59486,"t":"London:"},{"b":141.4,"p":1.59349,"t":"New York:"},{"b":141.4,"p":1.59193,"t":"GMT:"},{"b":141.4,"p":1.59056,"t":"Local:"}]},
 "mark":{"type":"text","align":"right","baseline":"middle","fontSize":5.8,"color":"#a8a8a8"},
 "encoding":{"x":{"field":"b","type":"quantitative","title":null},"y":{"field":"p","type":"quantitative","title":null},"text":{"field":"t"}}},
{"data":{"values":[{"b":142.2,"p":1.59896,"t":"02:59"},{"b":142.2,"p":1.59779,"t":"22:59"},{"b":142.2,"p":1.59642,"t":"22:11"},{"b":142.2,"p":1.59486,"t":"15:11"},{"b":142.2,"p":1.59349,"t":"10:11"},{"b":142.2,"p":1.59193,"t":"13:11"},{"b":142.2,"p":1.59056,"t":"07:11"}]},
 "mark":{"type":"text","align":"left","baseline":"middle","fontSize":5.8,"color":"#b0b0b0"},
 "encoding":{"x":{"field":"b","type":"quantitative","title":null},"y":{"field":"p","type":"quantitative","title":null},"text":{"field":"t"}}},
{"data":{"values":[{"b":76.8,"p":1.59427,"t":"H4 Chart"}]},
 "mark":{"type":"text","align":"left","baseline":"middle","fontSize":10,"font":"Liberation Serif","color":"#3aa83a"},
 "encoding":{"x":{"field":"b","type":"quantitative","title":null},"y":{"field":"p","type":"quantitative","title":null},"text":{"field":"t"}}},
{"data":{"values":[{"b":99.7,"p":1.56671,"t":"150%"},{"b":99.7,"p":1.56397,"t":"125%"},{"b":99.7,"p":1.56123,"t":"100%"},{"b":99.7,"p":1.5585,"t":"75%"},{"b":99.7,"p":1.55576,"t":"50%"},{"b":99.7,"p":1.55322,"t":"25%"}]},
 "mark":{"type":"text","align":"center","baseline":"middle","fontSize":4.8,"color":"#4f9fd8"},
 "encoding":{"x":{"field":"b","type":"quantitative","title":null},"y":{"field":"p","type":"quantitative","title":null},"text":{"field":"t"}}},
{"data":{"values":[{"b":100.5,"p":1.54774,"t":"25%"},{"b":100.5,"p":1.54501,"t":"50%"},{"b":100.5,"p":1.54227,"t":"75%"},{"b":100.5,"p":1.53973,"t":"100%"},{"b":100.5,"p":1.53699,"t":"125%"}]},
 "mark":{"type":"text","align":"center","baseline":"middle","fontSize":4.8,"color":"#cdbb7a"},
 "encoding":{"x":{"field":"b","type":"quantitative","title":null},"y":{"field":"p","type":"quantitative","title":null},"text":{"field":"t"}}},
{"data":{"values":[{"b":121.3,"p":1.55302,"t":"PIVOT 1.55274"}]},
 "mark":{"type":"text","align":"left","baseline":"bottom","fontSize":5,"color":"#a8a8a8"},
 "encoding":{"x":{"field":"b","type":"quantitative","title":null},"y":{"field":"p","type":"quantitative","title":null},"text":{"field":"t"}}},
{"data":{"values":[{"b":121.6,"p":1.55126,"t":"BUY ZONE #2"}]},
 "mark":{"type":"text","align":"left","baseline":"middle","fontSize":5,"color":"#4a8fe0"},
 "encoding":{"x":{"field":"b","type":"quantitative","title":null},"y":{"field":"p","type":"quantitative","title":null},"text":{"field":"t"}}},
{"data":{"values":[{"b":121.8,"p":1.54989,"t":"BUY ZONE #1"}]},
 "mark":{"type":"text","align":"left","baseline":"middle","fontSize":5,"color":"#e8a020"},
 "encoding":{"x":{"field":"b","type":"quantitative","title":null},"y":{"field":"p","type":"quantitative","title":null},"text":{"field":"t"}}},
{"data":{"values":[{"b":153.3,"b2":158.3,"p":1.55195,"p2":1.55331}]},"mark":{"type":"rect","color":"#ffffff"},
 "encoding":{"x":{"field":"b","type":"quantitative","title":null},"x2":{"field":"b2"},"y":{"field":"p","type":"quantitative","title":null},"y2":{"field":"p2"}}},
{"data":{"values":[{"b":153.6,"p":1.55263,"t":"1.55262"}]},
 "mark":{"type":"text","align":"left","baseline":"middle","fontSize":4.5,"color":"#000000"},
 "encoding":{"x":{"field":"b","type":"quantitative","title":null},"y":{"field":"p","type":"quantitative","title":null},"text":{"field":"t"}}}
]
},
{
"width":604,"height":17,
"layer":[
{"data":{"values":[{"b":-0.05,"y":0.56,"t":"OSMACD"},{"b":12.93,"y":0.56,"t":"SIGNAL"},{"b":37.1,"y":0.56,"t":"MAIN TREND"},{"b":76.28,"y":0.56,"t":"MAJOR TREND"},{"b":96.64,"y":0.56,"t":"ANALYSIS"},{"b":101.48,"y":0.76,"t":"CURRENT"},{"b":102.24,"y":0.4,"t":"OVERALL"}]},
 "mark":{"type":"text","align":"left","baseline":"middle","fontSize":4.8,"color":"#a8a8a8"},
 "encoding":{
  "x":{"field":"b","type":"quantitative","title":null,"scale":{"domain":[-0.56,153.13],"nice":false,"zero":false},
   "axis":{"orient":"bottom","labels":false,"ticks":false,"domain":false,"grid":true,"gridColor":"#8a8a8a","gridDash":[1,2],"minExtent":0,"maxExtent":0,"tickCount":200,
   "values":[-0.5,3.5,7.5,11.5,15.5,19.5,23.5,27.5,31.5,35.5,39.5,43.5,47.5,51.5,55.5,59.5,63.5,67.5,71.5,75.5,79.5,83.5,87.5,91.5,95.5,99.5,103.5,107.5,111.5,115.5,119.5,123.5,127.5,131.5,135.5,139.5,143.5,147.5,151.5]}},
  "y":{"field":"y","type":"quantitative","title":null,"scale":{"domain":[0,1],"nice":false,"zero":false},
   "axis":{"orient":"right","values":[0.76,0.18],"tickCount":20,"labelExpr":"datum.value > 0.5 ? '-9000000' : '9000000'","labelFontSize":3.6,"labelColor":"#c8c8c8","labelOverlap":false,"labelBound":false,"tickSize":2,"tickColor":"#a0a0a0","domainColor":"#a8a8a8","labelPadding":1,"grid":true,"gridColor":"#8a8a8a","gridDash":[1,2],"minExtent":20,"maxExtent":20}},
  "text":{"field":"t"}}},
{"data":{"values":[{"b":18.52,"y":0.56,"t":"M1"},{"b":21.83,"y":0.56,"t":"M5"},{"b":45.75,"y":0.56,"t":"M15"},{"b":48.8,"y":0.56,"t":"M30"},{"b":55.93,"y":0.56,"t":"H4"}]},
 "mark":{"type":"text","align":"left","baseline":"middle","fontSize":5.6,"fontWeight":"bold","color":"#30e030"},
 "encoding":{"x":{"field":"b","type":"quantitative","title":null},"y":{"field":"y","type":"quantitative","title":null},"text":{"field":"t"}}},
{"data":{"values":[{"b":53.13,"y":0.56,"t":"H1"},{"b":86.46,"y":0.56,"t":"D1"},{"b":89.26,"y":0.56,"t":"W1"},{"b":92.31,"y":0.56,"t":"MN"}]},
 "mark":{"type":"text","align":"left","baseline":"middle","fontSize":5.6,"fontWeight":"bold","color":"#ff2a2a"},
 "encoding":{"x":{"field":"b","type":"quantitative","title":null},"y":{"field":"y","type":"quantitative","title":null},"text":{"field":"t"}}},
{"data":{"values":[{"b":24.63,"y":0.54,"t":"TRENDUP"}]},
 "mark":{"type":"text","align":"left","baseline":"middle","fontSize":8.2,"fontWeight":"bold","color":"#3ae03a"},
 "encoding":{"x":{"field":"b","type":"quantitative","title":null},"y":{"field":"y","type":"quantitative","title":null},"text":{"field":"t"}}},
{"data":{"values":[{"b":59.24,"y":0.54,"t":"TRENDUP"}]},
 "mark":{"type":"text","align":"left","baseline":"middle","fontSize":8.2,"fontWeight":"bold","color":"#a6d62a"},
 "encoding":{"x":{"field":"b","type":"quantitative","title":null},"y":{"field":"y","type":"quantitative","title":null},"text":{"field":"t"}}},
{"data":{"values":[{"b":69.92,"y":0.56,"t":"MEDIUM"}]},
 "mark":{"type":"text","align":"left","baseline":"middle","fontSize":4.5,"color":"#b8a848"},
 "encoding":{"x":{"field":"b","type":"quantitative","title":null},"y":{"field":"y","type":"quantitative","title":null},"text":{"field":"t"}}},
{"data":{"values":[{"b":110.38,"y":0.76,"t":"TRENDUP"},{"b":110.38,"y":0.4,"t":"TRENDUP"}]},
 "mark":{"type":"text","align":"left","baseline":"middle","fontSize":4.5,"color":"#36c836"},
 "encoding":{"x":{"field":"b","type":"quantitative","title":null},"y":{"field":"y","type":"quantitative","title":null},"text":{"field":"t"}}}
]
},
{
"width":604,"height":16,
"layer":[
{"data":{"values":[{"b":-0.05,"y":0.7,"t":"DSSTOCH"},{"b":12.93,"y":0.7,"t":"SIGNAL"},{"b":38.63,"y":0.7,"t":"STOCHASTIC"},{"b":77.05,"y":0.7,"t":"LEGEND"}]},
 "mark":{"type":"text","align":"left","baseline":"middle","fontSize":4.8,"color":"#a8a8a8"},
 "encoding":{
  "x":{"field":"b","type":"quantitative","title":null,"scale":{"domain":[-0.56,153.13],"nice":false,"zero":false},
   "axis":{"orient":"bottom","ticks":false,"domain":false,"grid":true,"gridColor":"#8a8a8a","gridDash":[1,2],"tickCount":200,"labelAlign":"left","labelBaseline":"top","labelFontSize":4.6,"labelColor":"#c8c8c8","labelPadding":2,"labelOverlap":false,"labelBound":false,"labelFlush":false,"minExtent":11,"maxExtent":11,
   "labelExpr":"datum.value == -0.5 ? '2 Aug 2010' : datum.value == 7.5 ? '3 Aug 08:00' : datum.value == 15.5 ? '4 Aug 16:00' : datum.value == 23.5 ? '6 Aug 00:00' : datum.value == 31.5 ? '9 Aug 04:00' : datum.value == 39.5 ? '10 Aug 12:00' : datum.value == 47.5 ? '11 Aug 20:00' : datum.value == 55.5 ? '13 Aug 04:00' : datum.value == 63.5 ? '16 Aug 08:00' : datum.value == 71.5 ? '17 Aug' : datum.value == 95.5 ? '23 Aug 12:00' : datum.value == 103.5 ? '24 Aug 20:00' : datum.value == 111.5 ? '26 Aug 04:00' : datum.value == 119.5 ? '27 Aug 12:00' : ''",
   "values":[-0.5,3.5,7.5,11.5,15.5,19.5,23.5,27.5,31.5,35.5,39.5,43.5,47.5,51.5,55.5,59.5,63.5,67.5,71.5,75.5,79.5,83.5,87.5,91.5,95.5,99.5,103.5,107.5,111.5,115.5,119.5,123.5,127.5,131.5,135.5,139.5,143.5,147.5,151.5]}},
  "y":{"field":"y","type":"quantitative","title":null,"scale":{"domain":[0,1],"nice":false,"zero":false},
   "axis":{"orient":"right","values":[0.875,0.25],"tickCount":20,"labelExpr":"datum.value > 0.5 ? '-9000000' : '9000000'","labelFontSize":3.6,"labelColor":"#c8c8c8","labelOverlap":false,"labelBound":false,"tickSize":2,"tickColor":"#a0a0a0","domainColor":"#a8a8a8","labelPadding":1,"grid":true,"gridColor":"#8a8a8a","gridDash":[1,2],"minExtent":20,"maxExtent":20}},
  "text":{"field":"t"}}},
{"data":{"values":[{"b":18.52,"y":0.7,"t":"M1"},{"b":22.09,"y":0.7,"t":"M5"},{"b":25.14,"y":0.7,"t":"M15"}]},
 "mark":{"type":"text","align":"left","baseline":"middle","fontSize":5.6,"fontWeight":"bold","color":"#30e030"},
 "encoding":{"x":{"field":"b","type":"quantitative","title":null},"y":{"field":"y","type":"quantitative","title":null},"text":{"field":"t"}}},
{"data":{"values":[{"b":28.45,"y":0.7,"t":"M30"},{"b":32.01,"y":0.7,"t":"H1"},{"b":34.56,"y":0.7,"t":"H4"}]},
 "mark":{"type":"text","align":"left","baseline":"middle","fontSize":5.6,"fontWeight":"bold","color":"#ff2a2a"},
 "encoding":{"x":{"field":"b","type":"quantitative","title":null},"y":{"field":"y","type":"quantitative","title":null},"text":{"field":"t"}}},
{"data":{"values":[{"b":47.53,"y":0.81,"t":"M1 : 79.37 ▲"},{"b":57.96,"y":0.81,"t":"M5 : 79.90 ▲"},{"b":66.62,"y":0.81,"t":"M15 : 78.26 ▲"},{"b":82.65,"y":0.81,"t":"* TRENDUP"}]},
 "mark":{"type":"text","align":"left","baseline":"middle","fontSize":4.3,"color":"#36d036"},
 "encoding":{"x":{"field":"b","type":"quantitative","title":null},"y":{"field":"y","type":"quantitative","title":null},"text":{"field":"t"}}},
{"data":{"values":[{"b":47.53,"y":0.44,"t":"M30 : 78.50 ▼"},{"b":57.96,"y":0.44,"t":"H1 : 82.61 ▼"},{"b":66.62,"y":0.44,"t":"H4 : 72.66 ▼"},{"b":82.65,"y":0.44,"t":"* TRENDDN"}]},
 "mark":{"type":"text","align":"left","baseline":"middle","fontSize":4.3,"color":"#ff3030"},
 "encoding":{"x":{"field":"b","type":"quantitative","title":null},"y":{"field":"y","type":"quantitative","title":null},"text":{"field":"t"}}},
{"data":{"values":[{"b":91.55,"y":0.81,"t":"OVERBOUGHT"}]},
 "mark":{"type":"text","align":"left","baseline":"middle","fontSize":4.3,"color":"#1e8a2e"},
 "encoding":{"x":{"field":"b","type":"quantitative","title":null},"y":{"field":"y","type":"quantitative","title":null},"text":{"field":"t"}}},
{"data":{"values":[{"b":91.55,"y":0.44,"t":"OVERSOLD"}]},
 "mark":{"type":"text","align":"left","baseline":"middle","fontSize":4.3,"color":"#9a2a2a"},
 "encoding":{"x":{"field":"b","type":"quantitative","title":null},"y":{"field":"y","type":"quantitative","title":null},"text":{"field":"t"}}},
{"data":{"values":[{"b":103.51,"y":0.81,"t":"* BULLISH START"},{"b":103.51,"y":0.44,"t":"* BEARISH START"}]},
 "mark":{"type":"text","align":"left","baseline":"middle","fontSize":4.3,"color":"#d05858"},
 "encoding":{"x":{"field":"b","type":"quantitative","title":null},"y":{"field":"y","type":"quantitative","title":null},"text":{"field":"t"}}}
]
}
]
}
